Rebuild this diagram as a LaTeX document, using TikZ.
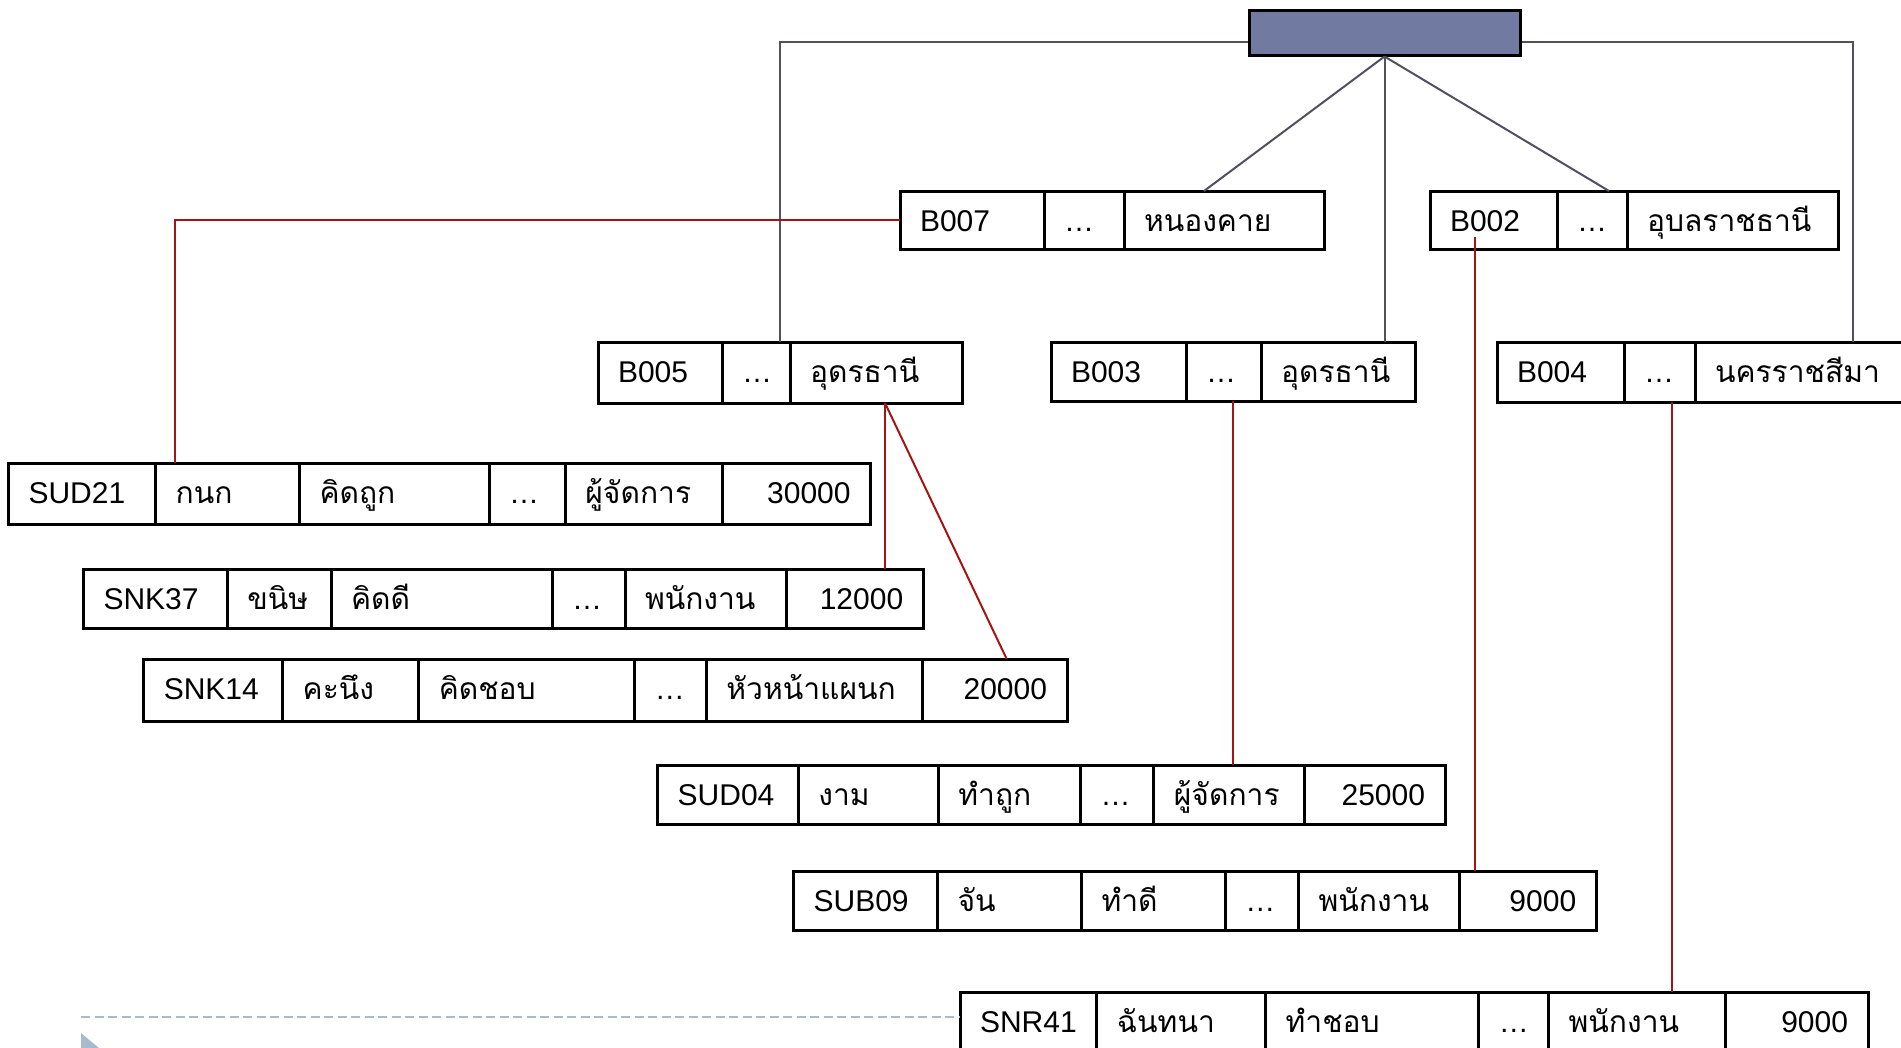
\documentclass[tikz,border=0pt]{standalone}
\usepackage{fontspec}
\setmainfont{Liberation Sans}
\newfontfamily\thaifont[Script=Thai]{Loma}
\newcommand\T[1]{{\thaifont #1}}
\newcommand\R[1]{\hspace*{\fill}#1}
\definecolor{hdrfill}{RGB}{113,123,161}
\definecolor{grayline}{RGB}{80,80,96}
\definecolor{redline}{RGB}{163,20,20}
\definecolor{bulletc}{RGB}{167,187,207}
\tikzset{
 cell/.style={draw=black, line width=3pt, rectangle, inner xsep=20pt, inner ysep=0pt, outer sep=0pt, align=left, font=\fontsize{30pt}{36pt}\selectfont},
 treeline/.style={draw=grayline, line width=2pt},
 linkline/.style={draw=redline, line width=2pt},
 dashline/.style={draw=bulletc, line width=2.4pt, dash pattern=on 9pt off 4.5pt},
}
\newcommand\tabrow[4]{%
 \foreach \xa/\xb/\txt [count=\i] in {#4}{%
  \pgfmathsetmacro\cx{(\xa+\xb)/2}%
  \pgfmathsetmacro\cy{(#2+#3)/2}%
  \pgfmathsetmacro\tw{\xb-\xa-40}%
  \pgfmathsetmacro\dd{#3-#2-40.5}%
  \node[cell, text width=\tw pt, text height=40.5pt, text depth=\dd pt] (#1-\i) at (\cx,\cy) {\txt};
 }}
\begin{document}
\begin{tikzpicture}[x=1pt,y=-1pt]
\useasboundingbox (0,0) rectangle (1901,1047);
\clip (0,0) rectangle (1901,1047);
% root
\node[draw=black, line width=3pt, fill=hdrfill, minimum width=271pt, minimum height=45pt, inner sep=0pt] (root) at (1384.5,32.5) {};
% branch rows
\tabrow{b007}{191}{249}{900/1044/B007, 1044/1124/…, 1124/1324/\T{หนองคาย}}
\tabrow{b002}{191}{249}{1430/1557/B002, 1557/1627/…, 1627/1838/\T{อุบลราชธานี}}
\tabrow{b005}{342}{403}{598/722/B005, 722/790/…, 790/962/\T{อุดรธานี}}
\tabrow{b003}{342}{401}{1051/1186/B003, 1186/1261/…, 1261/1415/\T{อุดรธานี}}
\tabrow{b004}{342}{402}{1497/1624/B004, 1624/1695/…, 1695/1960/\T{นครราชสีมา}}
% staff rows
\tabrow{sud21}{463}{524}{8.5/155.7/SUD21, 155.7/299.5/\T{กนก}, 299.5/489/\T{คิดถูก}, 489/565.4/…, 565.4/722.6/\T{ผู้จัดการ}, 722.6/870.6/\R{30000}}
\tabrow{snk37}{569}{628}{83.5/227.3/SNK37, 227.3/331/\T{ขนิษ}, 331/552/\T{คิดดี}, 552/625/…, 625/786.4/\T{พนักงาน}, 786.4/923.2/\R{12000}}
\tabrow{snk14}{659}{721}{143.8/282.7/SNK14, 282.7/418.8/\T{คะนึง}, 418.8/634.9/\T{คิดชอบ}, 634.9/706.4/…, 706.4/922.5/\T{หัวหน้าแผนก}, 922.5/1067/\R{20000}}
\tabrow{sud04}{765}{824}{657.7/798.4/SUD04, 798.4/938.4/\T{งาม}, 938.4/1080.7/\T{ทำถูก}, 1080.7/1153.9/…, 1153.9/1304.3/\T{ผู้จัดการ}, 1304.3/1445/\R{25000}}
\tabrow{sub09}{871}{930}{793.6/937.5/SUB09, 937.5/1081.5/\T{จัน}, 1081.5/1225.4/\T{ทำดี}, 1225.4/1298.6/…, 1298.6/1459.5/\T{พนักงาน}, 1459.5/1596.2/\R{9000}}
\tabrow{snr41}{992}{1052}{960/1096.8/SNR41, 1096.8/1265.7/\T{ฉันทนา}, 1265.7/1478.8/\T{ทำชอบ}, 1478.8/1548.7/…, 1548.7/1725.6/\T{พนักงาน}, 1725.6/1868/\R{9000}}
% tree (gray) connectors
\draw[treeline] ([yshift=15pt]root.south west) -| ([xshift=-10.5pt]b005-2.north east);
\draw[treeline] ([yshift=15pt]root.south east) -| ([xshift=158pt]b004-3.north west);
\draw[treeline] (root.south) -- ([xshift=80pt]b007-3.north west);
\draw[treeline] (root.south) -- (root.south |- b003-3.north);
\draw[treeline] (root.south) -- ([xshift=-18pt]b002-2.north east);
% red links
\draw[linkline] (b007-1.west) -| ([xshift=19.3pt]sud21-2.north west);
\draw[linkline] ([xshift=-77pt]b005-3.south east) coordinate (p5) -- (p5 |- snk37-6.north);
\draw[linkline] (p5) -- ([xshift=-60.3pt]snk14-6.north east);
\draw[linkline] ([xshift=-28pt]b003-2.south east) coordinate (p3) -- (p3 |- sud04-5.north);
\draw[linkline] ([xshift=44.5pt,yshift=12pt]b002-1.south west) coordinate (p2) -- (p2 |- sub09-6.north);
\draw[linkline] ([xshift=47.5pt]b004-2.south west) coordinate (p4) -- (p4 |- snr41-5.north);
% slide decoration
\coordinate (dstart) at (81,1016.7);
\draw[dashline] (dstart) -- (dstart -| snr41-1.west);
\fill[bulletc] (81,1033) -- (103.7,1052) -- (81,1071) -- cycle;
\end{tikzpicture}
\end{document}
